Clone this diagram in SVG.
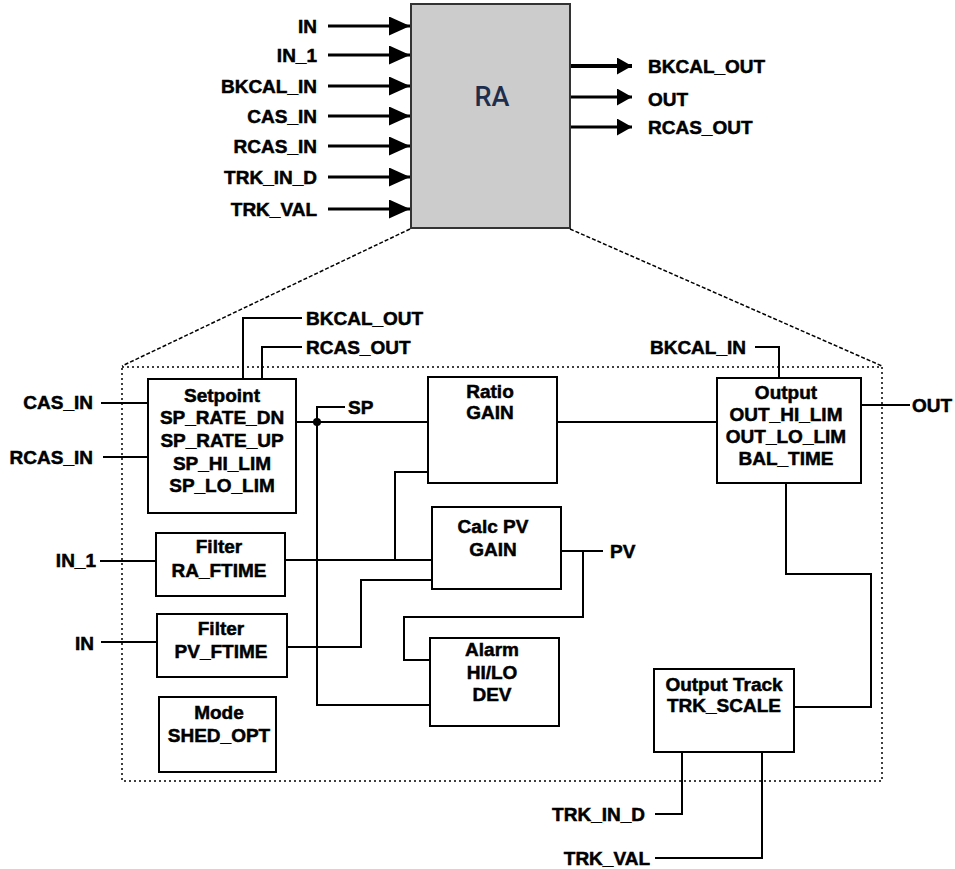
<svg xmlns="http://www.w3.org/2000/svg" width="955" height="869" viewBox="0 0 955 869">
<style>
.t{font-family:"Liberation Sans",Arial,sans-serif;font-weight:bold;font-size:19px;fill:#000;stroke:#000;stroke-width:0.5}
.m{text-anchor:middle}
.e{text-anchor:end}
.box{fill:#fff;stroke:#000;stroke-width:2}
.w{fill:none;stroke:#000;stroke-width:2}
.ai{stroke:#000;stroke-width:3;marker-end:url(#ah)}
.ao{stroke:#000;stroke-width:3;marker-end:url(#ah2)}
.dash{fill:none;stroke:#000;stroke-width:1.5;stroke-dasharray:4,2}
.dot{fill:none;stroke:#000;stroke-width:1.5;stroke-dasharray:2,3}
</style>
<defs>
<marker id="ah" markerUnits="userSpaceOnUse" markerWidth="22" markerHeight="20" refX="21" refY="9.5" orient="auto"><path d="M0,0 L21,9.5 L0,19 z" fill="#000"/></marker>
<marker id="ah2" markerUnits="userSpaceOnUse" markerWidth="16" markerHeight="18" refX="15" refY="8.5" orient="auto"><path d="M0,0 L15,8.5 L0,17 z" fill="#000"/></marker>
</defs>
<rect width="955" height="869" fill="#fff"/>

<g id="ra-block">
<rect x="411" y="4" width="159" height="224" fill="#cccccc" stroke="#333" stroke-width="2"/>
<text x="492" y="106" text-anchor="middle" style="font-family:Roboto,'Liberation Sans',sans-serif;font-weight:500;font-size:27px;fill:#1f2d4d">RA</text>
</g>

<g id="ra-inputs">
<text class="t e" x="317" y="33">IN</text>
<text class="t e" x="317" y="62">IN_1</text>
<text class="t e" x="317" y="93">BKCAL_IN</text>
<text class="t e" x="317" y="123">CAS_IN</text>
<text class="t e" x="317" y="153">RCAS_IN</text>
<text class="t e" x="317" y="184">TRK_IN_D</text>
<text class="t e" x="317" y="216">TRK_VAL</text>
</g>
<g id="ra-outputs">
<text class="t" x="648" y="73">BKCAL_OUT</text>
<text class="t" x="648" y="106">OUT</text>
<text class="t" x="648" y="134">RCAS_OUT</text>
</g>

<g id="connectors">
<line class="ai" x1="328" y1="26" x2="410" y2="26"/>
<line class="ai" x1="328" y1="55" x2="410" y2="55"/>
<line class="ai" x1="328" y1="86" x2="410" y2="86"/>
<line class="ai" x1="328" y1="116" x2="410" y2="116"/>
<line class="ai" x1="328" y1="146" x2="410" y2="146"/>
<line class="ai" x1="328" y1="177" x2="410" y2="177"/>
<line class="ai" x1="328" y1="209" x2="410" y2="209"/>
<line class="ao" x1="571" y1="66" x2="632" y2="66" style="stroke-width:4"/>
<line class="ao" x1="571" y1="97" x2="632" y2="97"/>
<line class="ao" x1="571" y1="127" x2="632" y2="127"/>

<line class="dash" x1="410" y1="229" x2="122" y2="366"/>
<line class="dash" x1="570" y1="229" x2="882" y2="366"/>
<rect class="dot" x="122" y="367" width="760" height="414"/>

<line class="w" x1="101" y1="403" x2="148" y2="403"/>
<line class="w" x1="103" y1="457" x2="148" y2="457"/>
<line class="w" x1="100" y1="561" x2="156" y2="561"/>
<line class="w" x1="101" y1="642" x2="157" y2="642"/>
<polyline class="w" points="243,379 243,318 302,318"/>
<polyline class="w" points="262,379 262,347 302,347"/>
<path class="w" d="M345,407 H317 V705 H430"/>
<line class="w" x1="296" y1="422" x2="428" y2="422"/>
<circle cx="317" cy="422" r="4" fill="#000"/>
<line class="w" x1="557" y1="422" x2="717" y2="422"/>
<polyline class="w" points="755,347 779,347 779,378"/>
<line class="w" x1="861" y1="405" x2="910" y2="405"/>
<polyline class="w" points="428,472 395,472 395,560"/>
<line class="w" x1="285" y1="560" x2="432" y2="560"/>
<polyline class="w" points="287,647 361,647 361,580 432,580"/>
<line class="w" x1="561" y1="551" x2="603" y2="551"/>
<polyline class="w" points="583,551 583,617 404,617 404,660 430,660"/>
<polyline class="w" points="786,483 786,574 871,574 871,707 794,707"/>
<polyline class="w" points="682,752 682,814 655,814"/>
<polyline class="w" points="762,752 762,858 655,858"/>
</g>

<g id="labels">
<text class="t e" x="93" y="409">CAS_IN</text>
<text class="t e" x="93" y="464">RCAS_IN</text>
<text class="t e" x="96" y="567">IN_1</text>
<text class="t e" x="94" y="650">IN</text>
<text class="t" x="306" y="325">BKCAL_OUT</text>
<text class="t" x="306" y="354">RCAS_OUT</text>
<text class="t" x="348" y="414">SP</text>
<text class="t e" x="746" y="354">BKCAL_IN</text>
<text class="t" x="912" y="412">OUT</text>
<text class="t" x="610" y="558">PV</text>
<text class="t e" x="645" y="821">TRK_IN_D</text>
<text class="t e" x="650" y="865">TRK_VAL</text>
</g>

<g id="setpoint">
<rect class="box" x="148" y="379" width="148" height="134"/>
<text class="t m" x="222" y="402">Setpoint</text>
<text class="t m" x="222" y="424">SP_RATE_DN</text>
<text class="t m" x="222" y="447">SP_RATE_UP</text>
<text class="t m" x="222" y="470">SP_HI_LIM</text>
<text class="t m" x="222" y="492">SP_LO_LIM</text>
</g>
<g id="ratio">
<rect class="box" x="428" y="377" width="129" height="106"/>
<text class="t m" x="490" y="398">Ratio</text>
<text class="t m" x="490" y="419">GAIN</text>
</g>
<g id="output">
<rect class="box" x="717" y="378" width="144" height="105"/>
<text class="t m" x="786" y="399">Output</text>
<text class="t m" x="786" y="421">OUT_HI_LIM</text>
<text class="t m" x="786" y="443">OUT_LO_LIM</text>
<text class="t m" x="786" y="465">BAL_TIME</text>
</g>
<g id="filter-ra">
<rect class="box" x="156" y="533" width="129" height="63"/>
<text class="t m" x="219" y="553">Filter</text>
<text class="t m" x="219" y="577">RA_FTIME</text>
</g>
<g id="calc-pv">
<rect class="box" x="432" y="507" width="129" height="82"/>
<text class="t m" x="493" y="533">Calc PV</text>
<text class="t m" x="493" y="556">GAIN</text>
</g>
<g id="filter-pv">
<rect class="box" x="157" y="614" width="130" height="63"/>
<text class="t m" x="221" y="635">Filter</text>
<text class="t m" x="221" y="658">PV_FTIME</text>
</g>
<g id="alarm">
<rect class="box" x="430" y="638" width="129" height="88"/>
<text class="t m" x="492" y="656">Alarm</text>
<text class="t m" x="492" y="679">HI/LO</text>
<text class="t m" x="492" y="701">DEV</text>
</g>
<g id="mode">
<rect class="box" x="159" y="697" width="117" height="75"/>
<text class="t m" x="219" y="719">Mode</text>
<text class="t m" x="219" y="742">SHED_OPT</text>
</g>
<g id="output-track">
<rect class="box" x="654" y="669" width="140" height="83"/>
<text class="t m" x="724" y="691">Output Track</text>
<text class="t m" x="724" y="712">TRK_SCALE</text>
</g>
</svg>
